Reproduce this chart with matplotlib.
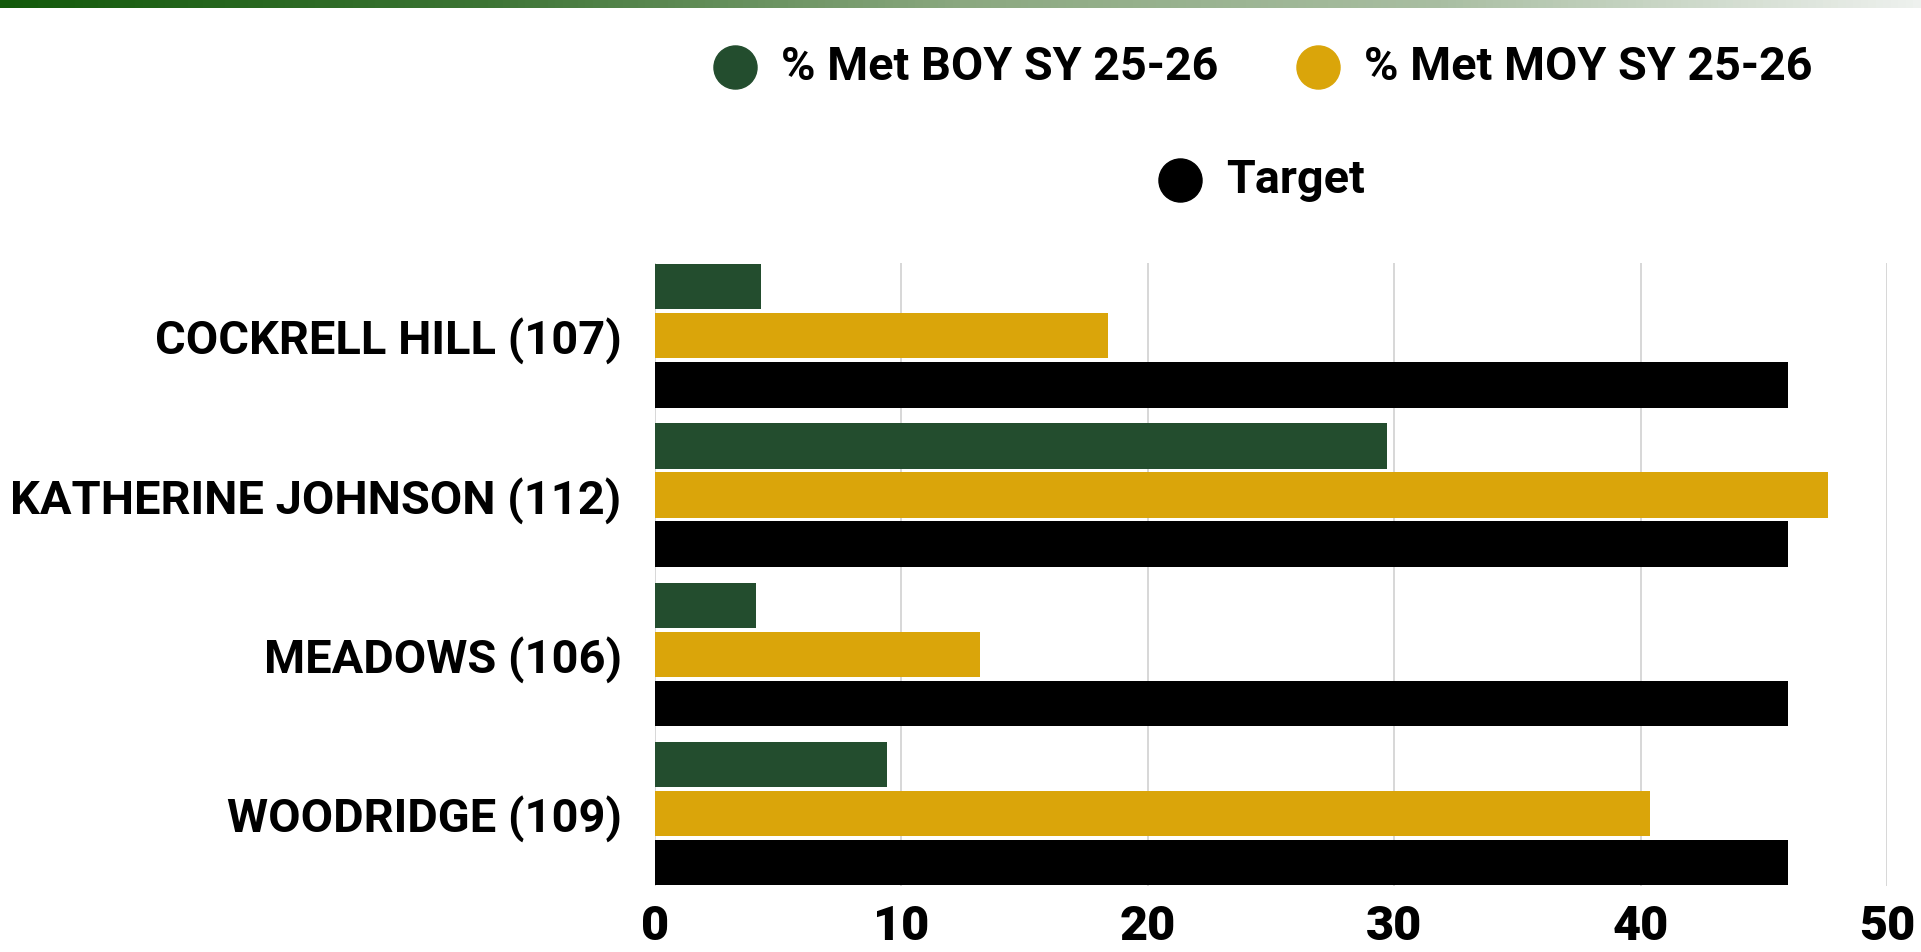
import numpy as np
import matplotlib
matplotlib.use("Agg")
import matplotlib.pyplot as plt
from matplotlib.colors import LinearSegmentedColormap
from matplotlib.lines import Line2D

# datos
escuelas = ["COCKRELL HILL (107)", "KATHERINE JOHNSON (112)", "MEADOWS (106)", "WOODRIDGE (109)"]
series = ["% Met BOY SY 25-26", "% Met MOY SY 25-26", "Target"]
boy = [4.3, 29.7, 4.1, 9.4]
moy = [18.4, 47.6, 13.2, 40.4]
target = [46, 46, 46, 46]
colores = ["#234d2e", "#daa50a", "#000000"]

fig = plt.figure(figsize=(19.21, 9.52), dpi=100)

# barra degradada superior
ax_top = fig.add_axes([0, 1 - 8 / 952, 1, 8 / 952])
cmap = LinearSegmentedColormap.from_list(
    "verde", ["#135a0b", "#3c7434", "#8ba880", "#a9bea2", "#eef1ee"])
ax_top.imshow(np.linspace(0, 1, 256).reshape(1, -1), aspect="auto", cmap=cmap)
ax_top.axis("off")

# grafico principal
ax = fig.add_axes([655 / 1921, 1 - 886 / 952, (1887 - 655) / 1921, (886 - 263) / 952])
y = np.arange(len(escuelas))
h = 0.285
paso = 0.308
for k, vals in enumerate([boy, moy, target]):
    ax.barh(y + (k - 1) * paso, vals, height=h, color=colores[k], zorder=3)

ax.set_xlim(0, 50)
ax.set_ylim(3.455, -0.457)
ax.set_xticks([0, 10, 20, 30, 40, 50])
ax.set_yticks(y)
ax.set_yticklabels(escuelas)
ax.grid(axis="x", color="#d4d4d4", linewidth=1.3, zorder=0)
ax.tick_params(length=0)
ax.tick_params(axis="y", pad=24)
ax.tick_params(axis="x", pad=13)
for t in ax.get_yticklabels():
    t.set_fontfamily("Roboto")
    t.set_fontweight("bold")
    t.set_fontsize(33.8)
for t in ax.get_xticklabels():
    t.set_fontfamily("Roboto")
    t.set_fontweight("heavy")
    t.set_fontsize(35)
for s in ax.spines.values():
    s.set_visible(False)

# leyenda manual
pos_leyenda = [(735, 67), (1318, 67), (1180, 180)]
for (px, py), nombre, c in zip(pos_leyenda, series, colores):
    fig.add_artist(Line2D([px / 1921], [1 - py / 952], marker="o", markersize=31,
                          color=c, linestyle="none", transform=fig.transFigure))
    fig.text((px + 46) / 1921, 1 - py / 952, nombre, fontsize=33.7, fontweight="bold",
             family="Roboto", va="center", ha="left")

fig.savefig("out.png", dpi=100)
